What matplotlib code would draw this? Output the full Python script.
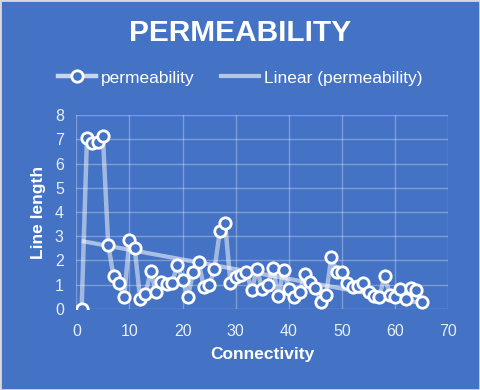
import numpy as np
import matplotlib
matplotlib.use("Agg")
import matplotlib.pyplot as plt
from matplotlib.patches import Rectangle

connectivity = list(range(1, 66))
line_length = [
    0.0, 7.05, 6.85, 6.9, 7.15, 2.65, 1.35, 1.05, 0.5, 2.85,
    2.5, 0.4, 0.6, 1.55, 0.7, 1.1, 1.03, 1.05, 1.8, 1.2,
    0.5, 1.54, 1.93, 0.92, 0.99, 1.64, 3.2, 3.53, 1.06, 1.33,
    1.4, 1.52, 0.76, 1.66, 0.8, 1.0, 1.68, 0.52, 1.61, 0.8,
    0.5, 0.71, 1.42, 1.13, 0.88, 0.3, 0.58, 2.15, 1.52, 1.52,
    1.06, 0.92, 0.93, 1.08, 0.71, 0.54, 0.48, 1.37, 0.58, 0.48,
    0.81, 0.4, 0.85, 0.78, 0.3,
]
title = "PERMEABILITY"
x_ticks = [0, 10, 20, 30, 40, 50, 60, 70]
y_ticks = [0, 1, 2, 3, 4, 5, 6, 7, 8]

plt.rcParams['font.family'] = ['Liberation Sans', 'DejaVu Sans']

BG = '#4472C4'
fig = plt.figure(figsize=(4.8, 3.9), dpi=100, facecolor=BG)
ax = fig.add_axes([0.159, 0.208, 0.775, 0.497])
ax.set_facecolor(BG)

x = np.array(connectivity, dtype=float)
y = np.array(line_length, dtype=float)
coef = np.polyfit(x, y, 1)
xt = np.array([x.min(), x.max()])

ax.plot(x, y, color='white', alpha=0.5, lw=3.2, zorder=3, solid_joinstyle='round')
ax.plot(x, y, ls='none', marker='o', ms=8.2, mfc=BG, mec='white', mew=2.0, zorder=4)
l_trend, = ax.plot(xt, np.polyval(coef, xt), color='white', alpha=0.55, lw=3, zorder=2,
                   solid_capstyle='butt')

ax.set_xlim(0, 70)
ax.set_ylim(0, 8)
ax.set_xticks(x_ticks)
ax.set_yticks(y_ticks)
ax.grid(True, color='white', alpha=0.3, lw=1)
ax.set_axisbelow(True)
for s in ax.spines.values():
    s.set_visible(False)
ax.tick_params(length=0, colors='#E8EEF8', labelsize=11.5)
ax.tick_params(axis='x', pad=11)
ax.tick_params(axis='y', pad=9)

ax.set_xlabel('Connectivity', color='white', fontsize=12.5, fontweight='bold', labelpad=6)
ax.set_ylabel('Line length', color='white', fontsize=12.5, fontweight='bold', labelpad=6)

fig.text(0.5, 0.915, title, color='white', fontsize=21.5, fontweight='bold',
         ha='center', va='center')

from matplotlib.lines import Line2D
h1 = Line2D([], [], color='#C8D5EE', lw=3.2, marker='o', ms=8.2, mfc=BG, mec='white', mew=2.0)
h2 = Line2D([], [], color='#B4C7E7', lw=3)
leg = fig.legend([h1, h2], ['permeability', 'Linear (permeability)'], loc='center',
                 bbox_to_anchor=(0.5, 0.8), ncol=2, frameon=False, fontsize=12.5,
                 labelcolor='white', handlelength=2.2, handletextpad=0.3,
                 columnspacing=1.5)

fig.add_artist(Rectangle((0, 0), 1, 1, transform=fig.transFigure, fill=False,
                         edgecolor='#D9D9D9', lw=2))

fig.savefig('out.png', dpi=100, facecolor=BG)
